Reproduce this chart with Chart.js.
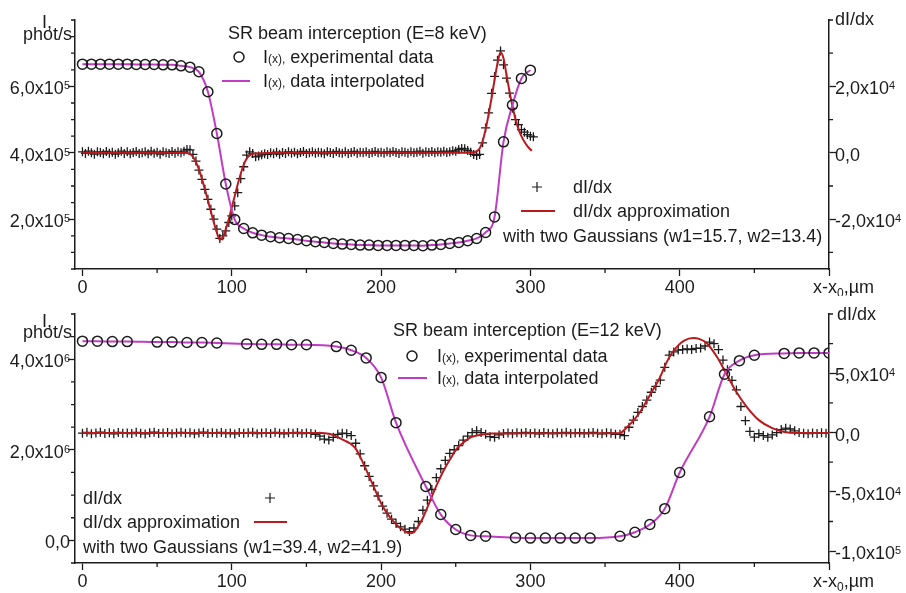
<!DOCTYPE html>
<html>
<head>
<meta charset="utf-8">
<script src="https://cdn.jsdelivr.net/npm/chart.js@4.4.1/dist/chart.umd.min.js"></script>
<style>
  html, body { margin: 0; padding: 0; background: #fff; }
  .panel { position: absolute; left: 0; width: 906px; }
</style>
</head>
<body>
<div class="panel" style="top:0;height:296px"><canvas id="chart-top" width="906" height="296"></canvas></div>
<div class="panel" style="top:296px;height:297px"><canvas id="chart-bottom" width="906" height="297"></canvas></div>
<script>
// ---- E = 8 keV ----
const topCircleX = [0, 6, 12, 18, 24, 30, 36, 42, 48, 54, 60, 66, 72, 78, 84, 90, 96, 102, 108, 114,
  120, 126, 132, 138, 144, 150, 156, 162, 168, 174, 180, 186, 192, 198, 204, 210, 216, 222, 228, 234,
  240, 246, 252, 258, 264, 270, 276, 282, 288, 294, 300];
const topCircleI = [667000, 667000, 667000, 667000, 667000, 667000, 666000, 666000, 666000, 665000,
  665000, 662000, 658000, 644000, 584000, 458000, 306000, 199000, 172000, 159000,
  152000, 147000, 144000, 142000, 139000, 135000, 132000, 130000, 127000, 125000,
  124000, 122000, 122000, 121000, 121000, 121000, 121000, 121000, 120000, 122000,
  124000, 127000, 130000, 135000, 142000, 160000, 207000, 433000, 544000, 624000, 649000];

const topDerivX = [0, 2, 4, 6, 8, 10, 12, 14, 16, 18, 20, 22, 24, 26, 28, 30, 32, 34, 36, 38,
  40, 42, 44, 46, 48, 50, 52, 54, 56, 58, 60, 62, 64, 66, 68, 70, 72, 74, 76, 78,
  80, 82, 84, 86, 88, 90, 92, 94, 96, 98, 100, 102, 104, 106, 108, 110, 112, 114, 116, 118,
  120, 122, 124, 126, 128, 130, 132, 134, 136, 138, 140, 142, 144, 146, 148, 150, 152, 154, 156, 158,
  160, 162, 164, 166, 168, 170, 172, 174, 176, 178, 180, 182, 184, 186, 188, 190, 192, 194, 196, 198,
  200, 202, 204, 206, 208, 210, 212, 214, 216, 218, 220, 222, 224, 226, 228, 230, 232, 234, 236, 238,
  240, 242, 244, 246, 248, 250, 252, 254, 256, 258, 260, 262, 264, 266, 268, 270, 272, 274, 276, 278,
  280, 282, 284, 286, 288, 290, 292, 294, 296, 298, 300, 302];
const topDeriv = [300, -200, 500, 0, -400, 300, 100, -300, 400, -100,
  200, -400, 0, 500, -200, 300, -300, 100, 400, -200,
  0, 300, -300, 500, -100, 200, -400, 300, 0, -200,
  400, -100, 300, 0, 500, 1000, 900, -500, -2500, -5200,
  -8000, -11000, -14000, -17000, -20000, -23000, -25800, -25000, -23500, -21000,
  -19000, -16000, -12000, -7800, -4200, -700, 300, -200, -1200, -1000,
  -600, -300, -500, 0, -300, 200, -400, 100, -200, 300,
  -100, 200, -300, 100, 400, -200, 0, 300, -100, 200,
  0, -300, 300, 100, -200, 400, 0, -100, 300, -200,
  100, 400, -100, 200, 0, 300, -200, 100, 400, 0,
  200, -100, 300, 0, 400, 100, -200, 300, 200, -100,
  300, 0, 200, 500, -100, 300, 100, 400, 0, 300,
  200, 500, 100, 300, 600, 500, 1000, 1300, 1200, 700,
  200, -500, -800, -500, 3000, 7500, 12000, 17900, 23000, 27900,
  30700, 26500, 22500, 18000, 13400, 10000, 8500, 7000, 6200, 5500,
  5000, 4800];

const topFitX = [0, 60, 68, 72, 74, 76, 78, 80, 82, 84, 86, 88, 90, 92, 94, 96, 98, 100, 102, 104,
  106, 108, 110, 112, 114, 120, 130, 200, 258, 262, 264, 266, 268, 270, 272, 274, 276, 278, 280, 282,
  284, 286, 288, 290, 292, 294, 296, 298, 300, 301];
const topFit = [0, 0, 0, -300, -1200, -2800, -5000, -7800, -11000, -14300, -17700, -21000, -24000, -26200,
  -25500, -23000, -20000, -16500, -13000, -9500, -6300, -3600, -1700, -700, -300, -100, 0, 0, 0, 100,
  500, 1300, 3500, 7000, 11500, 16500, 22000, 27000, 30300, 28500, 23500, 18500, 14000, 10200, 7200,
  5000, 3300, 2000, 1000, 600];

// ---- E = 12 keV ----
const botCircleX = [0, 10, 20, 30, 50, 60, 70, 80, 90, 110, 120, 130, 140, 150, 170, 180, 190, 200, 210,
  230, 240, 250, 260, 270, 290, 300, 310, 320, 330, 340, 360, 370, 380, 390, 400, 420, 430, 440, 450,
  470, 480, 490, 500];
const botCircleI = [4400000, 4400000, 4390000, 4390000, 4380000, 4380000, 4370000, 4370000, 4360000,
  4340000, 4330000, 4330000, 4320000, 4320000, 4280000, 4200000, 4030000, 3600000, 2600000,
  1190000, 570000, 240000, 110000, 90000, 60000, 50000, 50000, 50000, 50000, 50000,
  90000, 180000, 350000, 700000, 1500000, 2730000, 3670000, 3970000, 4090000,
  4130000, 4140000, 4140000, 4140000];

const botDerivX = [0, 3, 6, 9, 12, 15, 18, 21, 24, 27, 30, 33, 36, 39, 42, 45, 48, 51, 54, 57,
  60, 63, 66, 69, 72, 75, 78, 81, 84, 87, 90, 93, 96, 99, 102, 105, 108, 111, 114, 117,
  120, 123, 126, 129, 132, 135, 138, 141, 144, 147, 150, 153, 156, 159, 162, 165, 168, 171, 174, 177,
  180, 183, 186, 189, 192, 195, 198, 201, 204, 207, 210, 213, 216, 219, 222, 225, 228, 231, 234, 237,
  240, 243, 246, 249, 252, 255, 258, 261, 264, 267, 270, 273, 276, 279, 282, 285, 288, 291, 294, 297,
  300, 303, 306, 309, 312, 315, 318, 321, 324, 327, 330, 333, 336, 339, 342, 345, 348, 351, 354, 357,
  360, 363, 366, 369, 372, 375, 378, 381, 384, 387, 390, 393, 396, 399, 402, 405, 408, 411, 414, 417,
  420, 423, 426, 429, 432, 435, 438, 441, 444, 447, 450, 453, 456, 459, 462, 465, 468, 471, 474, 477,
  480, 483, 486, 489, 492, 495, 498];
const botDeriv = [-500, 200, -900, -300, 300, -700, -200, -1000, 100, -600,
  -300, -800, 200, -500, -1100, -200, 300, -700, -400, 0,
  -900, -300, 200, -600, -100, -1000, -400, 300, -700, -200,
  -500, 100, -800, -300, -1100, 0, -600, -200, 200, -900,
  -400, -100, -700, 200, -500, -1000, -200, -600, 100, -800,
  -300, -700, -1500, -3000, -5500, -6200, -4000, -1500, -500, -900,
  -2500, -9000, -18000, -28000, -37000, -45000, -53500, -62000, -68000, -73000,
  -76500, -79500, -81500, -83500, -80500, -75000, -65500, -57000, -48000, -38000,
  -30500, -23500, -17500, -14500, -11000, -6400, -3000, 0, 1500, 0,
  -1500, -3500, -4000, -2000, -800, -300, -900, -200, -600, 100,
  -700, -300, -1000, 0, -500, -900, -200, -600, 200, -700,
  -400, -100, -800, -300, 100, -600, -1000, -200, -500, -1500,
  -1500, -2500, 4500, 10500, 17000, 22000, 27400, 34000, 39000, 44300,
  55000, 65400, 68000, 69600, 70000, 70500, 70000, 71000, 71300, 73000,
  76300, 75000, 70000, 61100, 53000, 44000, 36000, 22000, 10000, 1000,
  -3900, -1000, -2500, -3900, -2000, 0, 2500, 3700, 3000, 1500,
  0, -500, -900, -300, -700, -200, -500];

const botFitX = [0, 160, 165, 168, 172, 176, 179, 183, 188, 192, 197, 201, 206, 211, 215, 219, 222, 224,
  228, 233, 237, 242, 246, 251, 256, 260, 266, 273, 300, 360, 364, 369, 373, 378, 382, 387, 391, 395,
  398, 403, 409, 413, 418, 425, 431, 438, 445, 453, 462, 471, 480, 500];
const botFit = [-300, -300, -1000, -2200, -4500, -7000, -9000, -13500, -25800, -37000, -51200, -62000,
  -71500, -78500, -82400, -85000, -84000, -80700, -72000, -57100, -45000, -31800, -23000, -13200,
  -7500, -4000, -2000, -800, -500, -500, 3700, 10000, 16500, 27000, 35800, 47000, 58600, 67500,
  72100, 77500, 79700, 79000, 75500, 63700, 50200, 34200, 21500, 10500, 3700, 300, -300, -300];

// ---- axes: major (labelled) and minor ticks ----
const xMajor = [0, 100, 200, 300, 400, 500];
const xMinor = [50, 150, 250, 350, 450];

const topLeftMajor = [200000, 400000, 600000];
const topLeftMinor = [50000, 100000, 150000, 250000, 300000, 350000, 450000, 500000, 550000,
  650000, 700000, 750000, 800000];
const topRightMajor = [-20000, 0, 20000];
const topRightMinor = [-30000, -10000, 10000, 30000, 40000];

const botLeftMajor = [0, 2000000, 4000000];
const botLeftMinor = [-500000, 500000, 1000000, 1500000, 2500000, 3000000, 3500000, 4500000, 5000000];
const botRightMajor = [-100000, -50000, 0, 50000];
const botRightMinor = [-75000, -25000, 25000, 75000, 100000];

// [mantissa, exponent]
const topLeftLabels = {200000: [`2,0x10`, `5`], 400000: [`4,0x10`, `5`], 600000: [`6,0x10`, `5`]};
const topRightLabels = {20000: [`2,0x10`, `4`], 0: [`0,0`, ``], [-20000]: [`-2,0x10`, `4`]};
const botLeftLabels = {0: [`0,0`, ``], 2000000: [`2,0x10`, `6`], 4000000: [`4,0x10`, `6`]};
const botRightLabels = {50000: [`5,0x10`, `4`], 0: [`0,0`, ``], [-50000]: [`-5,0x10`, `4`],
  [-100000]: [`-1,0x10`, `5`]};

const FONT = `"Liberation Sans", Arial, sans-serif`;
const INK = `#1c1c1c`;
const MAGENTA = `#c13cc4`;
const RED = `#b81a1e`;

Chart.defaults.font.family = FONT;
Chart.defaults.font.size = 18;
Chart.defaults.color = INK;

const pairs = (xs, ys) => xs.map((x, i) => ({x, y: ys[i]}));

const drawParts = (ctx, x, y, parts) => {
  let cx = x;
  parts.forEach(([text, size, dy = 0]) => {
    ctx.font = `${size}px ${FONT}`;
    ctx.fillText(text, cx, y + dy);
    cx += ctx.measureText(text).width;
  });
};

const partsWidth = (ctx, parts) => parts.reduce((sum, [text, size]) => {
  ctx.font = `${size}px ${FONT}`;
  return sum + ctx.measureText(text).width;
}, 0);

// notes are given in page coordinates, shifted by the panel offset
const drawNotes = (ctx, offsetY, notes) => {
  ctx.save();
  ctx.fillStyle = INK;
  ctx.textBaseline = `alphabetic`;
  ctx.textAlign = `left`;
  notes.forEach((n) => {
    const y = n.y - offsetY;
    if (n.parts) {
      drawParts(ctx, n.x, y, n.parts);
    } else if (n.circle) {
      ctx.beginPath();
      ctx.strokeStyle = INK;
      ctx.lineWidth = 1.5;
      ctx.arc(n.x, y, 5, 0, Math.PI * 2);
      ctx.stroke();
    } else if (n.plus) {
      ctx.beginPath();
      ctx.strokeStyle = INK;
      ctx.lineWidth = 1.2;
      ctx.moveTo(n.x - 5, y);
      ctx.lineTo(n.x + 5, y);
      ctx.moveTo(n.x, y - 5);
      ctx.lineTo(n.x, y + 5);
      ctx.stroke();
    } else if (n.line) {
      ctx.beginPath();
      ctx.strokeStyle = n.line;
      ctx.lineWidth = 2;
      ctx.moveTo(n.x, y);
      ctx.lineTo(n.x2, y);
      ctx.stroke();
    }
  });
  ctx.restore();
};

// minor tick marks and the y labels with a raised exponent
const drawAxes = (chart, cfg) => {
  const {ctx, chartArea: area, scales} = chart;
  ctx.save();
  ctx.strokeStyle = INK;
  ctx.lineWidth = 1.3;
  ctx.beginPath();
  xMinor.forEach((v) => {
    const px = scales.x.getPixelForValue(v);
    ctx.moveTo(px, area.bottom);
    ctx.lineTo(px, area.bottom + 4);
  });
  cfg.leftMinor.forEach((v) => {
    const py = scales.y.getPixelForValue(v);
    ctx.moveTo(area.left, py);
    ctx.lineTo(area.left - 4, py);
  });
  cfg.rightMinor.forEach((v) => {
    const py = scales.y2.getPixelForValue(v);
    ctx.moveTo(area.right, py);
    ctx.lineTo(area.right + 4, py);
  });
  ctx.stroke();

  ctx.fillStyle = INK;
  ctx.textBaseline = `alphabetic`;
  ctx.textAlign = `left`;
  const labelParts = ([mantissa, exponent]) => [[mantissa, 18], [exponent, 11, -5]];
  cfg.leftMajor.forEach((v) => {
    const py = scales.y.getPixelForValue(v);
    const parts = labelParts(cfg.leftLabels[v]);
    drawParts(ctx, area.left - 5 - partsWidth(ctx, parts), py + 8, parts);
  });
  cfg.rightMajor.forEach((v) => {
    const py = scales.y2.getPixelForValue(v);
    drawParts(ctx, area.right + 6, py + 8, labelParts(cfg.rightLabels[v]));
  });
  ctx.restore();
};

const xLabel = (y) => ({x: 813, y, parts: [[`x-x`, 18], [`0`, 12, 4], [`,µm`, 18]]});
const iLabel = (rest) => [[`I`, 18], [`(x),`, 12], [rest, 18]];

const topNotes = [
  {x: 42, y: 28, parts: [[`I,`, 18]]},
  {x: 23, y: 40, parts: [[`phot/s`, 18]]},
  {x: 835, y: 25, parts: [[`dI/dx`, 18]]},
  xLabel(293),
  {x: 228, y: 39, parts: [[`SR beam interception (E=8 keV)`, 18]]},
  {x: 239, y: 57, circle: true},
  {x: 263, y: 63, parts: iLabel(` experimental data`)},
  {x: 222, x2: 250, y: 81, line: MAGENTA},
  {x: 263, y: 87, parts: iLabel(` data interpolated`)},
  {x: 537, y: 187, plus: true},
  {x: 573, y: 193, parts: [[`dI/dx`, 18]]},
  {x: 521, x2: 555, y: 211, line: RED},
  {x: 573, y: 217, parts: [[`dI/dx approximation`, 18]]},
  {x: 503, y: 242, parts: [[`with two Gaussians (w1=15.7, w2=13.4)`, 18]]}
];

const botNotes = [
  {x: 42, y: 327, parts: [[`I,`, 18]]},
  {x: 23, y: 338, parts: [[`phot/s`, 18]]},
  {x: 837, y: 320, parts: [[`dI/dx`, 18]]},
  xLabel(587),
  {x: 393, y: 336, parts: [[`SR beam interception (E=12 keV)`, 18]]},
  {x: 412, y: 356, circle: true},
  {x: 437, y: 362, parts: iLabel(` experimental data`)},
  {x: 398, x2: 427, y: 378, line: MAGENTA},
  {x: 437, y: 384, parts: iLabel(` data interpolated`)},
  {x: 83, y: 504, parts: [[`dI/dx`, 18]]},
  {x: 270, y: 498, plus: true},
  {x: 83, y: 528, parts: [[`dI/dx approximation`, 18]]},
  {x: 254, x2: 287, y: 522, line: RED},
  {x: 83, y: 553, parts: [[`with two Gaussians (w1=39.4, w2=41.9)`, 18]]}
];

const axisGrid = {drawOnChartArea: false, drawTicks: true, tickLength: 7, tickColor: INK, tickWidth: 1.3};
const axisBorder = {display: true, color: INK, width: 1.5};

const yScale = (position, min, max, major, width) => ({
  type: `linear`,
  position,
  min,
  max,
  border: axisBorder,
  grid: axisGrid,
  ticks: {display: false},
  afterBuildTicks: (scale) => {
    scale.ticks = major.map((value) => ({value}));
  },
  afterFit: (scale) => {
    scale.width = width;
    scale.paddingTop = 0;
    scale.paddingBottom = 0;
  }
});

const createPanel = (canvas, cfg) => new Chart(canvas, {
  type: `scatter`,
  data: {
    datasets: [
      {
        data: pairs(cfg.derivX, cfg.deriv),
        yAxisID: `y2`,
        showLine: false,
        pointStyle: `cross`,
        pointRadius: 4.5,
        pointBorderWidth: 1.3,
        pointBorderColor: INK,
        borderColor: INK,
        order: 4
      },
      {
        data: pairs(cfg.fitX, cfg.fit),
        yAxisID: `y2`,
        showLine: true,
        pointRadius: 0,
        borderColor: RED,
        borderWidth: 2,
        cubicInterpolationMode: `monotone`,
        order: 3
      },
      {
        data: pairs(cfg.circleX, cfg.circleI),
        yAxisID: `y`,
        showLine: true,
        pointRadius: 0,
        borderColor: MAGENTA,
        borderWidth: 2,
        cubicInterpolationMode: `monotone`,
        clip: 0,
        order: 2
      },
      {
        data: pairs(cfg.circleX, cfg.circleI),
        yAxisID: `y`,
        showLine: false,
        pointStyle: `circle`,
        pointRadius: 5,
        pointBorderWidth: 1.5,
        pointBorderColor: INK,
        pointBackgroundColor: `rgba(0,0,0,0)`,
        clip: 0,
        order: 1
      }
    ]
  },
  options: {
    responsive: false,
    animation: false,
    events: [],
    layout: {padding: {top: cfg.padTop, left: 0, right: 0, bottom: 0}},
    plugins: {legend: {display: false}, tooltip: {enabled: false}},
    scales: {
      x: {
        type: `linear`,
        min: -5,
        max: 500,
        border: axisBorder,
        grid: axisGrid,
        ticks: {
          autoSkip: false,
          maxRotation: 0,
          padding: 1,
          font: {size: 18},
          callback: (value) => (value < 500 ? String(value) : ``)
        },
        afterBuildTicks: (scale) => {
          scale.ticks = xMajor.map((value) => ({value}));
        },
        afterFit: (scale) => {
          scale.height = cfg.xHeight;
          scale.paddingLeft = 0;
          scale.paddingRight = 0;
        }
      },
      y: yScale(`left`, cfg.leftMin, cfg.leftMax, cfg.leftMajor, 75),
      y2: yScale(`right`, cfg.rightMin, cfg.rightMax, cfg.rightMajor, 77)
    }
  },
  plugins: [{
    id: `notes`,
    afterDraw: (chart) => {
      drawAxes(chart, cfg);
      drawNotes(chart.ctx, cfg.offsetY, cfg.notes);
    }
  }]
});

createPanel(document.getElementById(`chart-top`), {
  offsetY: 0,
  padTop: 20,
  xHeight: 27,
  circleX: topCircleX, circleI: topCircleI,
  derivX: topDerivX, deriv: topDeriv,
  fitX: topFitX, fit: topFit,
  leftMin: 50000, leftMax: 800000, leftMajor: topLeftMajor, leftMinor: topLeftMinor, leftLabels: topLeftLabels,
  rightMin: -35000, rightMax: 40000, rightMajor: topRightMajor, rightMinor: topRightMinor, rightLabels: topRightLabels,
  notes: topNotes
});

createPanel(document.getElementById(`chart-bottom`), {
  offsetY: 296,
  padTop: 18,
  xHeight: 30,
  circleX: botCircleX, circleI: botCircleI,
  derivX: botDerivX, deriv: botDeriv,
  fitX: botFitX, fit: botFit,
  leftMin: -500000, leftMax: 5000000, leftMajor: botLeftMajor, leftMinor: botLeftMinor, leftLabels: botLeftLabels,
  rightMin: -110000, rightMax: 100000, rightMajor: botRightMajor, rightMinor: botRightMinor, rightLabels: botRightLabels,
  notes: botNotes
});
</script>
</body>
</html>
